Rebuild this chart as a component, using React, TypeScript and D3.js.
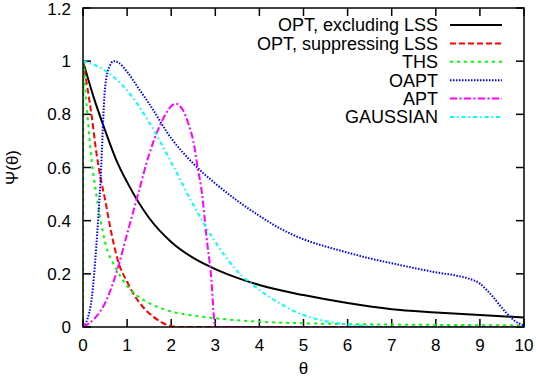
import * as d3 from "d3";

// values (theta, psi)
const thetaOptExcl = [0, 0.25, 0.5, 0.75, 1, 1.5, 2, 2.5, 3, 3.5, 4, 5, 6, 7, 8, 9, 10];
const psiOptExcl = [1.0, 0.86, 0.74, 0.63, 0.545, 0.41, 0.32, 0.26, 0.218, 0.185, 0.158, 0.12, 0.09, 0.067, 0.055, 0.045, 0.036];

const thetaOptSupp = [0, 0.1, 0.2, 0.3, 0.4, 0.5, 0.6, 0.7, 0.8, 1.0, 1.2, 1.4, 1.6, 1.8, 2.0, 2.2, 10];
const psiOptSupp = [1.0, 0.9, 0.79, 0.66, 0.56, 0.48, 0.39, 0.31, 0.245, 0.17, 0.11, 0.068, 0.038, 0.016, 0.003, 0, 0];

const thetaThs = [0, 0.01, 0.05, 0.1, 0.2, 0.3, 0.4, 0.5, 0.75, 1, 1.25, 1.5, 2, 2.5, 3, 4, 5, 6, 8, 10];
const psiThs = [0, 1.0, 0.9, 0.8, 0.62, 0.5, 0.4, 0.32, 0.22, 0.155, 0.115, 0.09, 0.058, 0.043, 0.033, 0.02, 0.014, 0.011, 0.008, 0.006];

const thetaOapt = [0, 0.1, 0.2, 0.3, 0.4, 0.5, 0.6, 0.7, 0.8, 1.0, 1.25, 1.5, 2, 2.5, 3, 3.5, 4, 4.5, 5, 5.5, 6, 6.5, 7, 7.5, 8, 8.5, 8.75, 9, 9.15, 9.3, 9.45, 9.6, 9.8, 10];
const psiOapt = [0, 0.03, 0.11, 0.3, 0.56, 0.9, 0.98, 1.0, 0.995, 0.96, 0.9, 0.84, 0.71, 0.615, 0.54, 0.475, 0.418, 0.368, 0.33, 0.303, 0.28, 0.258, 0.24, 0.222, 0.206, 0.192, 0.182, 0.163, 0.14, 0.113, 0.082, 0.053, 0.022, 0.005];

const thetaApt = [0, 0.25, 0.5, 0.75, 1, 1.25, 1.5, 1.75, 2, 2.1, 2.25, 2.4, 2.5, 2.6, 2.7, 2.8, 2.9, 3.0, 10];
const psiApt = [0, 0.03, 0.09, 0.2, 0.35, 0.5, 0.65, 0.76, 0.83, 0.84, 0.82, 0.76, 0.7, 0.6, 0.5, 0.34, 0.2, 0, 0];

const thetaGauss = [0, 0.5, 1, 1.5, 2, 2.5, 3, 3.5, 4, 4.5, 5, 5.5, 6, 6.5, 7, 10];
const psiGauss = [1.0, 0.965, 0.89, 0.77, 0.62, 0.46, 0.32, 0.21, 0.14, 0.085, 0.045, 0.022, 0.01, 0.003, 0, 0];

const xTicks = [0, 1, 2, 3, 4, 5, 6, 7, 8, 9, 10];
const yTicks = [0, 0.2, 0.4, 0.6, 0.8, 1, 1.2];

const series = [
  { name: "OPT, excluding LSS", xs: thetaOptExcl, ys: psiOptExcl, color: "#000000", dash: "none" },
  { name: "OPT, suppressing LSS", xs: thetaOptSupp, ys: psiOptSupp, color: "#ff0000", dash: "6,3" },
  { name: "THS", xs: thetaThs, ys: psiThs, color: "#00ff00", dash: "3,4" },
  { name: "OAPT", xs: thetaOapt, ys: psiOapt, color: "#0000ff", dash: "1.5,1.5" },
  { name: "APT", xs: thetaApt, ys: psiApt, color: "#ff00ff", dash: "7,2.5,2,2.5" },
  { name: "GAUSSIAN", xs: thetaGauss, ys: psiGauss, color: "#00ffff", dash: "4,3,1.5,3" },
];

const W = 536;
const H = 379;
const left = 83, right = 524, top = 8, bottom = 327;
const font = "'Liberation Sans', Arial, Helvetica, sans-serif";

export default function App() {
  const x = d3.scaleLinear().domain([0, 10]).range([left, right]);
  const y = d3.scaleLinear().domain([0, 1.2]).range([bottom, top]);
  const line = d3
    .line<[number, number]>()
    .x((d) => x(d[0]))
    .y((d) => y(d[1]))
    .curve(d3.curveMonotoneX);
  const tick = 8;

  return (
    <svg
      width={W}
      height={H}
      style={{ position: "absolute", left: 0, top: 0, background: "#fff" }}
      fontFamily={font}
    >
      <defs>
        <clipPath id="plot">
          <rect x={left} y={top} width={right - left} height={bottom - top} />
        </clipPath>
      </defs>

      {/* ticks, mirrored on all four sides */}
      <g stroke="#000" strokeWidth={1.5}>
        {xTicks.map((t) => (
          <g key={"x" + t}>
            <line x1={x(t)} x2={x(t)} y1={bottom} y2={bottom - tick} />
            <line x1={x(t)} x2={x(t)} y1={top} y2={top + tick} />
          </g>
        ))}
        {yTicks.map((t) => (
          <g key={"y" + t}>
            <line x1={left} x2={left + tick} y1={y(t)} y2={y(t)} />
            <line x1={right} x2={right - tick} y1={y(t)} y2={y(t)} />
          </g>
        ))}
      </g>

      {/* tick labels */}
      <g fontSize={17} fill="#000">
        {xTicks.map((t) => (
          <text key={"xl" + t} x={x(t)} y={351} textAnchor="middle">
            {t}
          </text>
        ))}
        {yTicks.map((t) => (
          <text key={"yl" + t} x={71} y={Math.max(y(t), 9)} dy="0.36em" textAnchor="end">
            {t}
          </text>
        ))}
      </g>

      {/* axis titles */}
      <text x={(left + right) / 2} y={374} textAnchor="middle" fontSize={17}>
        θ
      </text>
      <text
        transform={`translate(18,${(top + bottom) / 2}) rotate(-90)`}
        textAnchor="middle"
        fontSize={17}
      >
        Ψ(θ)
      </text>

      {/* curves */}
      <g clipPath="url(#plot)" fill="none" strokeWidth={2}>
        {series.map((s) => (
          <path
            key={s.name}
            d={line(s.xs.map((v, i) => [v, s.ys[i]] as [number, number])) || ""}
            stroke={s.color}
            strokeDasharray={s.dash}
          />
        ))}
      </g>

      {/* legend */}
      <g fontSize={18}>
        {series.map((s, i) => {
          const ly = 25 + i * 18.4;
          return (
            <g key={"lg" + s.name}>
              <text x={438} y={ly} dy="0.36em" textAnchor="end">
                {s.name}
              </text>
              <line
                x1={450}
                x2={502}
                y1={ly}
                y2={ly}
                stroke={s.color}
                strokeWidth={2}
                strokeDasharray={s.dash}
              />
            </g>
          );
        })}
      </g>

      {/* frame */}
      <rect
        x={left}
        y={top}
        width={right - left}
        height={bottom - top}
        fill="none"
        stroke="#000"
        strokeWidth={1.5}
      />
    </svg>
  );
}
